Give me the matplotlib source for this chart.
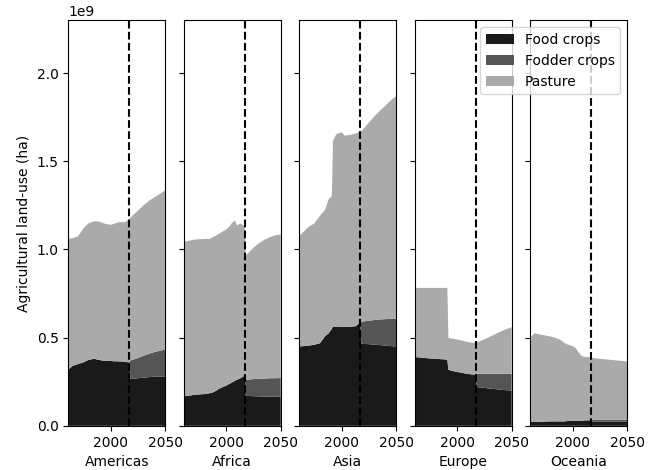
import numpy as np
import matplotlib
matplotlib.use("Agg")
import matplotlib.pyplot as plt

# years of the sampled points (historic up to 2017, projection from 2018)
years = [1961, 1965, 1970, 1975, 1980, 1985, 1988, 1991, 1992, 1995, 2000, 2003,
         2005, 2008, 2010, 2013, 2017, 2018, 2025, 2030, 2035, 2040, 2045, 2050]

regions = ["Americas", "Africa", "Asia", "Europe", "Oceania"]
labels = ["Food crops", "Fodder crops", "Pasture"]

# values in 1e9 ha
americas_food = [0.318, 0.340, 0.350, 0.360, 0.375, 0.380, 0.375, 0.372, 0.370, 0.370, 0.368, 0.366,
                 0.366, 0.365, 0.365, 0.362, 0.360, 0.265, 0.270, 0.273, 0.276, 0.278, 0.280, 0.280]
americas_fodder = [0] * 17 + [0.105, 0.115, 0.124, 0.132, 0.140, 0.146, 0.152]
americas_pasture = [0.744, 0.723, 0.725, 0.760, 0.775, 0.780, 0.785, 0.783, 0.782, 0.775, 0.772, 0.779,
                    0.784, 0.790, 0.790, 0.793, 0.810, 0.810, 0.835, 0.853, 0.867, 0.877, 0.889, 0.903]

africa_food = [0.167, 0.170, 0.175, 0.178, 0.180, 0.185, 0.190, 0.200, 0.205, 0.215, 0.228, 0.238,
               0.245, 0.255, 0.262, 0.270, 0.284, 0.170, 0.168, 0.167, 0.166, 0.165, 0.165, 0.164]
africa_fodder = [0] * 17 + [0.091, 0.097, 0.100, 0.102, 0.105, 0.105, 0.107]
africa_pasture = [0.875, 0.878, 0.880, 0.880, 0.880, 0.875, 0.880, 0.880, 0.880, 0.880, 0.886, 0.892,
                  0.903, 0.910, 0.874, 0.878, 0.846, 0.705, 0.745, 0.768, 0.787, 0.800, 0.810, 0.814]

asia_food = [0.450, 0.452, 0.455, 0.460, 0.468, 0.510, 0.524, 0.550, 0.563, 0.563, 0.562, 0.561,
             0.562, 0.562, 0.563, 0.565, 0.590, 0.465, 0.463, 0.460, 0.458, 0.455, 0.452, 0.450]
asia_fodder = [0] * 17 + [0.125, 0.133, 0.140, 0.145, 0.150, 0.154, 0.156]
asia_pasture = [0.626, 0.648, 0.675, 0.688, 0.722, 0.717, 0.760, 0.753, 1.052, 1.090, 1.103, 1.083,
                1.086, 1.088, 1.090, 1.093, 1.076, 1.080, 1.124, 1.155, 1.183, 1.210, 1.239, 1.264]

europe_food = [0.390, 0.388, 0.385, 0.382, 0.380, 0.378, 0.377, 0.375, 0.318, 0.312, 0.306, 0.302,
               0.300, 0.296, 0.294, 0.292, 0.290, 0.220, 0.215, 0.211, 0.208, 0.205, 0.202, 0.200]
europe_fodder = [0] * 17 + [0.075, 0.080, 0.084, 0.087, 0.090, 0.093, 0.095]
europe_pasture = [0.392, 0.394, 0.397, 0.400, 0.402, 0.404, 0.405, 0.407, 0.180, 0.183, 0.184, 0.183,
                  0.182, 0.182, 0.181, 0.180, 0.180, 0.177, 0.195, 0.210, 0.225, 0.240, 0.253, 0.264]

oceania_food = [0.022, 0.022, 0.023, 0.024, 0.025, 0.025, 0.025, 0.025, 0.025, 0.027, 0.028, 0.028,
                0.028, 0.029, 0.030, 0.031, 0.032, 0.024, 0.024, 0.024, 0.024, 0.024, 0.024, 0.024]
oceania_fodder = [0] * 17 + [0.010, 0.010, 0.010, 0.010, 0.010, 0.010, 0.010]
oceania_pasture = [0.476, 0.503, 0.495, 0.488, 0.481, 0.472, 0.465, 0.453, 0.447, 0.435, 0.424, 0.412,
                   0.392, 0.369, 0.362, 0.359, 0.356, 0.351, 0.346, 0.343, 0.340, 0.337, 0.334, 0.331]

data = {
    "Americas": (americas_food, americas_fodder, americas_pasture),
    "Africa": (africa_food, africa_fodder, africa_pasture),
    "Asia": (asia_food, asia_fodder, asia_pasture),
    "Europe": (europe_food, europe_fodder, europe_pasture),
    "Oceania": (oceania_food, oceania_fodder, oceania_pasture),
}

colors = ["#1a1a1a", "#555555", "#aaaaaa"]
base_year = 2017

fig, axes = plt.subplots(1, 5, sharey=True, figsize=(6.56, 4.7), dpi=100)
fig.subplots_adjust(left=0.104, right=0.956, top=0.957, bottom=0.094, wspace=0.19)

x = np.array(years)
for ax, region in zip(axes, regions):
    series = [np.array(s) * 1e9 for s in data[region]]
    ax.stackplot(x, *series, colors=colors, labels=labels)
    ax.axvline(base_year, color="k", linestyle="--", linewidth=1.5)
    ax.set_xlim(1961, 2050)
    ax.set_xticks([2000, 2050])
    ax.set_xlabel(region)

axes[0].set_ylim(0, 2.3e9)
axes[0].set_ylabel("Agricultural land-use (ha)")
axes[-1].legend(loc="upper right")

fig.savefig("out.png", dpi=100)
